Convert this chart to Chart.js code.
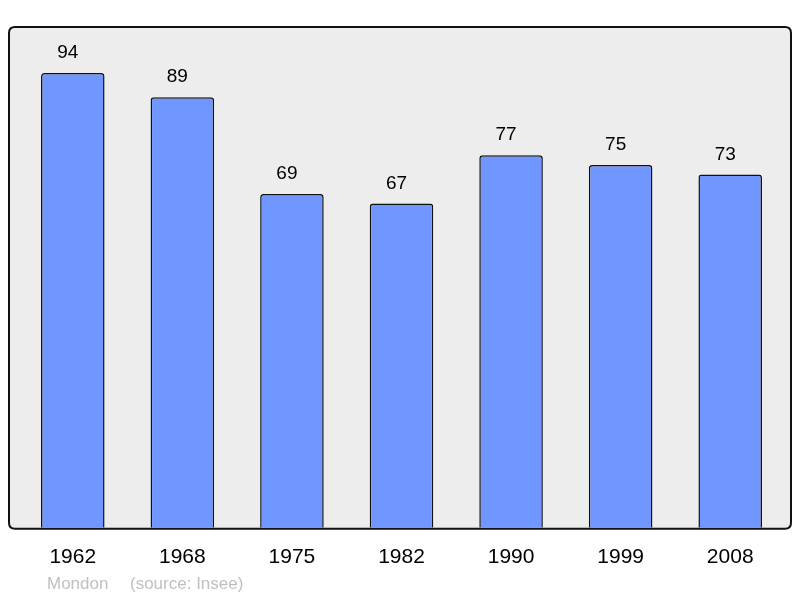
<!DOCTYPE html>
<html>
<head>
<meta charset="utf-8">
<script src="https://cdn.jsdelivr.net/npm/chart.js@4/dist/chart.umd.min.js"></script>
<style>
html,body{margin:0;padding:0;background:#fff;}
#wrap{position:relative;width:800px;height:598px;}
canvas{position:absolute;left:0;top:0;}
.foot{position:absolute;top:574px;font-family:"Liberation Sans",Arial,sans-serif;font-size:17px;color:#c0c0c0;white-space:nowrap;}
</style>
</head>
<body>
<div id="wrap">
<canvas id="c" width="800" height="598"></canvas>
<div class="foot" style="left:47px">Mondon</div>
<div class="foot" style="left:130px">(source: Insee)</div>
</div>
<script>
const years = ["1962","1968","1975","1982","1990","1999","2008"];
const population = [94, 89, 69, 67, 77, 75, 73];
const yMax = 103.5;

function boxPath(ctx, a) {
  const x0 = 9, x1 = 791, y0 = a.top, y1 = a.bottom + 1;
  const r = 6;
  ctx.beginPath();
  ctx.moveTo(x0 + r, y0);
  ctx.lineTo(x1 - r, y0);
  ctx.quadraticCurveTo(x1, y0, x1, y0 + r);
  ctx.lineTo(x1, y1 - r);
  ctx.quadraticCurveTo(x1, y1, x1 - r, y1);
  ctx.lineTo(x0 + r, y1);
  ctx.quadraticCurveTo(x0, y1, x0, y1 - r);
  ctx.lineTo(x0, y0 + r);
  ctx.quadraticCurveTo(x0, y0, x0 + r, y0);
  ctx.closePath();
}

const boxPlugin = {
  id: 'box',
  beforeDraw(chart) {
    const {ctx, chartArea: a} = chart;
    ctx.save();
    boxPath(ctx, a);
    ctx.fillStyle = '#ededed';
    ctx.fill();
    ctx.restore();
  },
  afterDatasetsDraw(chart) {
    const {ctx, chartArea: a} = chart;
    ctx.save();
    boxPath(ctx, a);
    ctx.lineWidth = 2;
    ctx.strokeStyle = '#111';
    ctx.stroke();
    const meta = chart.getDatasetMeta(0);
    ctx.font = '19px "Liberation Sans", Arial, sans-serif';
    ctx.fillStyle = '#000';
    ctx.textAlign = 'center';
    ctx.textBaseline = 'alphabetic';
    meta.data.forEach((bar, i) => {
      ctx.fillText(String(population[i]), bar.x - 5, bar.y - 15);
    });
    ctx.restore();
  }
};

new Chart(document.getElementById('c'), {
  type: 'bar',
  data: {
    labels: years,
    datasets: [{
      data: population,
      backgroundColor: '#7096ff',
      borderColor: '#111',
      borderWidth: 1.5,
      borderSkipped: 'bottom',
      borderRadius: {topLeft: 3, topRight: 3, bottomLeft: 0, bottomRight: 0},
      categoryPercentage: 1,
      barPercentage: 0.58
    }]
  },
  options: {
    responsive: false,
    animation: false,
    devicePixelRatio: 1,
    layout: {padding: {left: 18, right: 15, top: 27, bottom: 11}},
    plugins: {legend: {display: false}, tooltip: {enabled: false}},
    scales: {
      x: {
        grid: {display: false, drawTicks: false},
        border: {display: false},
        ticks: {
          color: '#000',
          padding: 17,
          font: {family: '"Liberation Sans", Arial, sans-serif', size: 21}
        }
      },
      y: {display: false, min: 0, max: yMax}
    }
  },
  plugins: [boxPlugin]
});
</script>
</body>
</html>
